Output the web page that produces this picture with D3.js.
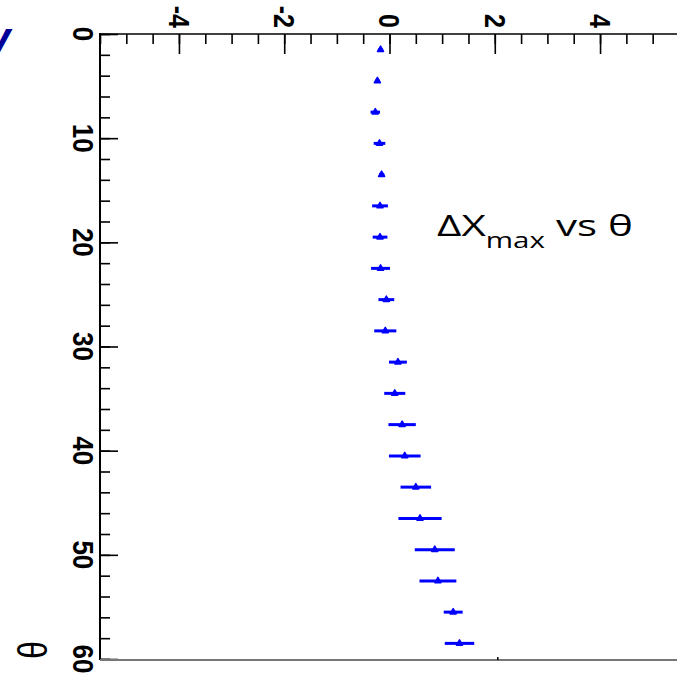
<!DOCTYPE html>
<html>
<head>
<meta charset="utf-8">
<script src="https://cdn.jsdelivr.net/npm/d3@7"></script>
<style>
	html, body { margin: 0; padding: 0; background: white; overflow: hidden; }
	svg { display: block; }
</style>
</head>
<body>
<svg id="chart" width="677" height="673"></svg>
<script>
// data
const thetaBins = [1.5, 4.5, 7.5, 10.5, 13.5, 16.5, 19.5, 22.5, 25.5, 28.5, 31.5, 34.5, 37.5, 40.5, 43.5, 46.5, 49.5, 52.5, 55.5, 58.5]
const deltaXmax = [-0.17, -0.23, -0.27, -0.19, -0.15, -0.18, -0.18, -0.17, -0.06, -0.08, 0.16, 0.10, 0.24, 0.29, 0.50, 0.58, 0.86, 0.92, 1.21, 1.33]
const deltaXerr = [0.04, 0.04, 0.09, 0.11, 0.05, 0.15, 0.14, 0.18, 0.15, 0.21, 0.17, 0.20, 0.26, 0.30, 0.29, 0.41, 0.38, 0.35, 0.18, 0.28]
const xMajorTicks = [-4, -2, 0, 2, 4]
const yMajorTicks = [0, 10, 20, 30, 40, 50, 60]
const xDomain = [-5.5, 5.5]
const yDomain = [0, 60]

const svg = d3.select('#chart')

const x = d3.scaleLinear().domain(xDomain).range([100, 679])
const y = d3.scaleLinear().domain(yDomain).range([34, 659])

const labelFont = '"Liberation Sans", Arial, sans-serif'
const stretch = 1.15 // the picture is a bit wide

/*
 *	AXES
 */
// top axis (delta X), ticks point down into the frame
svg.append('g')
	.attr('transform', 'translate(0,34)')
	.call(d3.axisTop(x).tickValues(d3.range(-5.5, 5.51, 0.5)).tickSize(-10).tickFormat(''))
	.call(g => g.select('.domain').remove())
svg.append('g')
	.attr('transform', 'translate(0,34)')
	.call(d3.axisTop(x).tickValues(xMajorTicks).tickSize(-20).tickFormat(''))
	.call(g => g.select('.domain').remove())

// left axis (theta)
svg.append('g')
	.attr('transform', 'translate(100,0)')
	.call(d3.axisLeft(y).tickValues(d3.range(0, 60.1, 2)).tickSize(-10).tickFormat(''))
	.call(g => g.select('.domain').remove())
svg.append('g')
	.attr('transform', 'translate(100,0)')
	.call(d3.axisLeft(y).tickValues(yMajorTicks).tickSize(-18).tickFormat(''))
	.call(g => g.select('.domain').remove())

svg.selectAll('.tick line').attr('stroke', 'black').attr('stroke-width', 1.6)

// frame lines
svg.append('line').attr('x1', 100).attr('x2', 677).attr('y1', 34).attr('y2', 34)
	.attr('stroke', 'black').attr('stroke-width', 1.6)
svg.append('line').attr('x1', 100).attr('x2', 100).attr('y1', 33).attr('y2', 660)
	.attr('stroke', 'black').attr('stroke-width', 2)
svg.append('line').attr('x1', 100).attr('x2', 677).attr('y1', 660).attr('y2', 660)
	.attr('stroke', '#777').attr('stroke-width', 2)
svg.append('line').attr('x1', x(2) + 3).attr('x2', x(2) + 3).attr('y1', 657).attr('y2', 660)
	.attr('stroke', 'black').attr('stroke-width', 1.5)

/*
 *	TICK LABELS (whole plot is turned a quarter, so the text is too)
 */
svg.append('g').selectAll('text')
	.data(xMajorTicks)
	.join('text')
	.attr('transform', d => `translate(${x(d)},28) rotate(90) scale(1,${stretch})`)
	.attr('text-anchor', 'end')
	.attr('dy', '0.35em')
	.attr('font-family', labelFont)
	.attr('font-weight', 'bold')
	.attr('font-size', 25)
	.text(d => d)

svg.append('g').selectAll('text')
	.data(yMajorTicks)
	.join('text')
	.attr('transform', d => `translate(83,${y(d)}) rotate(90) scale(1,${stretch})`)
	.attr('text-anchor', 'middle')
	.attr('dy', '0.35em')
	.attr('font-family', labelFont)
	.attr('font-weight', 'bold')
	.attr('font-size', 26)
	.text(d => d)

// axis title
svg.append('text')
	.attr('transform', `translate(31,650) rotate(90) scale(1,1.25)`)
	.attr('text-anchor', 'middle')
	.attr('dy', '0.35em')
	.attr('font-family', labelFont)
	.attr('font-size', 32)
	.text('θ')

/*
 *	DATA
 */
const points = thetaBins.map((t, i) => ({ theta: t, dx: deltaXmax[i], err: deltaXerr[i] }))

svg.append('g').selectAll('line')
	.data(points)
	.join('line')
	.attr('x1', d => x(d.dx - d.err))
	.attr('x2', d => x(d.dx + d.err))
	.attr('y1', d => y(d.theta))
	.attr('y2', d => y(d.theta))
	.attr('stroke', '#0000ff')
	.attr('stroke-width', 3)

svg.append('g').selectAll('path')
	.data(points)
	.join('path')
	.attr('d', d3.symbol(d3.symbolTriangle, 16))
	.attr('transform', d => `translate(${x(d.dx)},${y(d.theta)})`)
	.attr('fill', '#0000ff')
	.attr('stroke', '#0000ff')
	.attr('stroke-width', 1.5)
	.attr('stroke-linejoin', 'round')

/*
 *	SLIDE TEXT
 */
const title = svg.append('text')
	.attr('font-family', '"Open Sans", Lato, sans-serif')
	.attr('font-size', 30)
	.attr('fill', 'black')
title.append('tspan').text('ΔX')
title.append('tspan').attr('font-size', 21).attr('dy', 12).text('max')
title.append('tspan').attr('dy', -12).text(' vs θ')
// fit to the width seen in the picture
const tw = title.node().getBBox().width
title.attr('transform', `translate(437,236) scale(${196 / tw},1)`)

svg.append('text')
	.attr('x', -14)
	.attr('y', 53)
	.attr('font-family', labelFont)
	.attr('font-weight', 'bold')
	.attr('font-style', 'italic')
	.attr('font-size', 44)
	.attr('fill', '#000099')
	.text('v')
</script>
</body>
</html>
